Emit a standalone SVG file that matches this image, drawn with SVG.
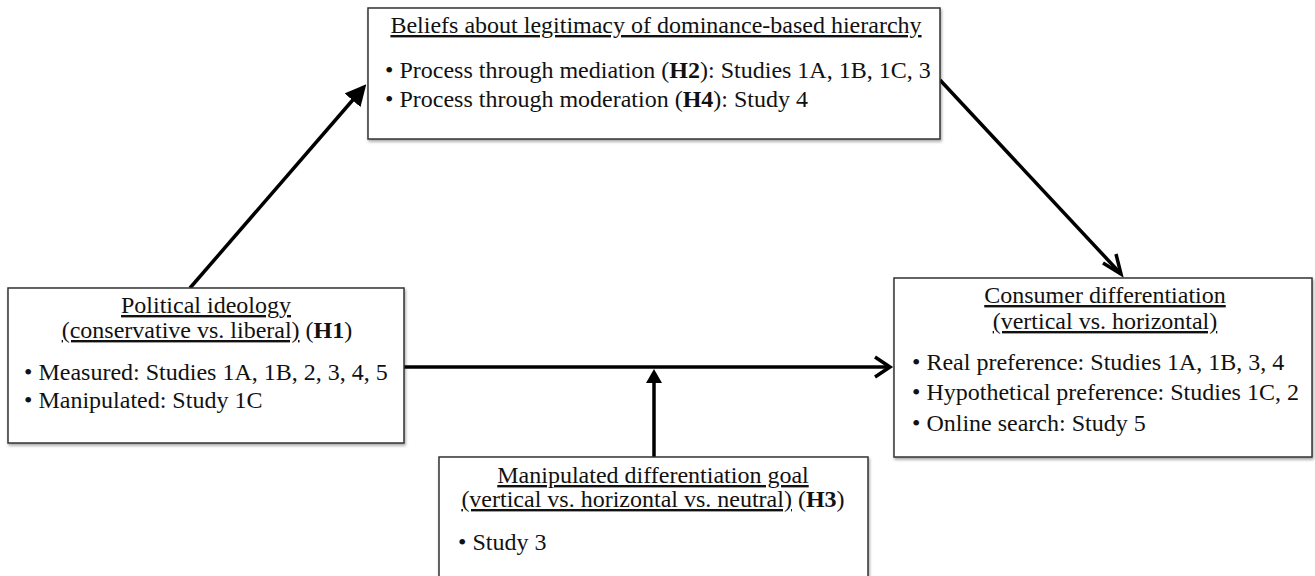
<svg xmlns="http://www.w3.org/2000/svg" width="1315" height="576" viewBox="0 0 1315 576">
<style>
.box{fill:#fff;stroke:#333;stroke-width:1.5;filter:url(#sh)}
text{font-family:"Liberation Serif","Times New Roman",serif;font-size:24px;fill:#111}
.c{text-anchor:middle}
.u{text-decoration:underline}
.b{font-weight:bold}
.ln{stroke:#000;stroke-width:3.5;fill:none}
</style>
<defs>
<filter id="sh" x="-5%" y="-5%" width="110%" height="115%">
<feGaussianBlur in="SourceAlpha" stdDeviation="1.5"/>
<feOffset dx="1" dy="2" result="o"/>
<feComponentTransfer><feFuncA type="linear" slope="0.35"/></feComponentTransfer>
<feMerge><feMergeNode/><feMergeNode in="SourceGraphic"/></feMerge>
</filter>
<marker id="filled" markerWidth="6" markerHeight="6" refX="5" refY="3" orient="auto" markerUnits="strokeWidth">
<path d="M0,0 L6,3 L0,6 z" fill="#000"/>
</marker>
</defs>
<g id="connectors">
<line class="ln" x1="190" y1="288" x2="364" y2="87" marker-end="url(#filled)"/>
<path class="ln" d="M940,80 L1121,274"/>
<path class="ln" d="M1103,263 L1121,274 L1116,254"/>
<line class="ln" x1="404" y1="367" x2="890" y2="367"/>
<path class="ln" d="M875,357 L890,367 L875,377"/>
<line class="ln" x1="654" y1="457" x2="654" y2="380"/>
<path d="M646,383 L654,369 L662,383 z" fill="#000"/>
</g>
<g id="beliefs">
<rect class="box" x="368" y="8" width="572" height="131"/>
<text class="c" x="656" y="33"><tspan class="u">Beliefs about legitimacy of dominance-based hierarchy</tspan></text>
<text x="385" y="78">• Process through mediation (<tspan class="b">H2</tspan>): Studies 1A, 1B, 1C, 3</text>
<text x="385" y="107">• Process through moderation (<tspan class="b">H4</tspan>): Study 4</text>
</g>
<g id="political">
<rect class="box" x="8" y="288" width="396" height="155"/>
<text class="c" x="206" y="313"><tspan class="u">Political ideology</tspan></text>
<text class="c" x="207" y="338"><tspan class="u">(conservative vs. liberal)</tspan> (<tspan class="b">H1</tspan>)</text>
<text x="24" y="380">• Measured: Studies 1A, 1B, 2, 3, 4, 5</text>
<text x="24" y="408">• Manipulated: Study 1C</text>
</g>
<g id="consumer">
<rect class="box" x="894" y="278" width="418" height="179"/>
<text class="c" x="1105" y="303"><tspan class="u">Consumer differentiation</tspan></text>
<text class="c" x="1105" y="329"><tspan class="u">(vertical vs. horizontal)</tspan></text>
<text x="912" y="370">• Real preference: Studies 1A, 1B, 3, 4</text>
<text x="912" y="400">• Hypothetical preference: Studies 1C, 2</text>
<text x="912" y="431">• Online search: Study 5</text>
</g>
<g id="goal">
<rect class="box" x="439" y="457" width="429" height="130"/>
<text class="c" x="653" y="483"><tspan class="u">Manipulated differentiation goal</tspan></text>
<text class="c" x="653" y="507"><tspan class="u">(vertical vs. horizontal vs. neutral)</tspan> (<tspan class="b">H3</tspan>)</text>
<text x="458" y="550">• Study 3</text>
</g>
</svg>
